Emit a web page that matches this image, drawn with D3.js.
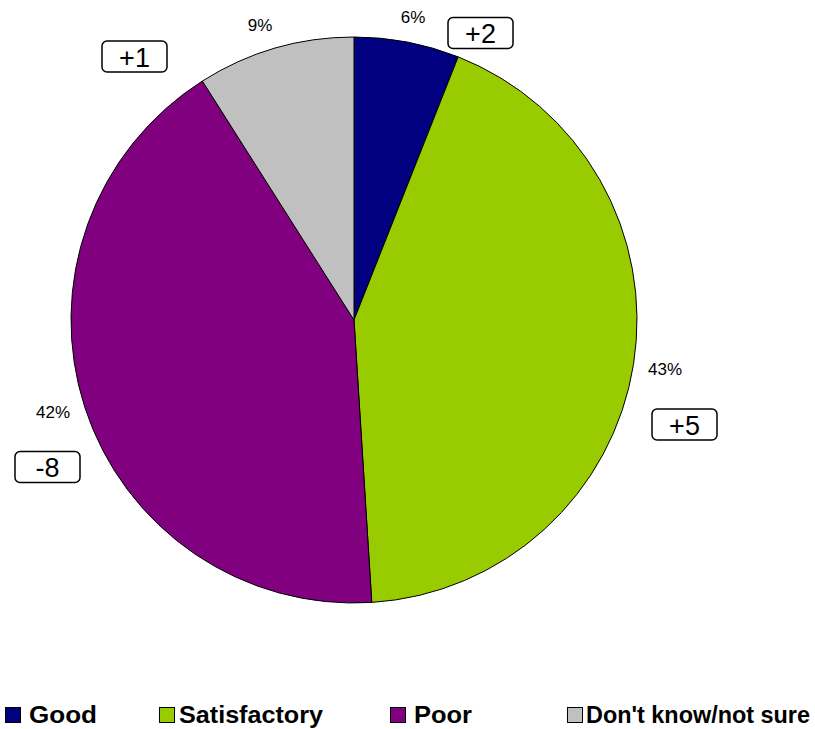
<!DOCTYPE html>
<html>
<head>
<meta charset="utf-8">
<script src="https://cdn.jsdelivr.net/npm/d3@7"></script>
<style>
  html, body { margin: 0; padding: 0; background: #fff; }
  svg { display: block; }
</style>
</head>
<body>
<svg id="chart" width="815" height="729"></svg>
<script>
// Ratings breakdown with change since previous survey
const categories = ["Good", "Satisfactory", "Poor", "Don't know/not sure"];
const values = [6, 43, 42, 9];
const changes = ["+2", "+5", "-8", "+1"];
const colors = ["#000080", "#99CC00", "#800080", "#C0C0C0"];

const svg = d3.select("#chart");
const cx = 354, cy = 320, radius = 283;
const font = "Liberation Sans, Arial, sans-serif";

const pie = d3.pie().value(d => d).sort(null);
const arcs = pie(values);
const arc = d3.arc().innerRadius(0).outerRadius(radius);

const g = svg.append("g").attr("transform", `translate(${cx},${cy})`);

g.selectAll("path.slice")
  .data(arcs)
  .join("path")
  .attr("class", "slice")
  .attr("d", arc)
  .attr("fill", (d, i) => colors[i])
  .attr("stroke", "#000")
  .attr("stroke-width", 1);

// Label offsets from the pie centre, per slice
const pctPos = [[59, -303], [311, 49], [-301, 92], [-94, -295]];
const boxPos = [[126.5, -287], [330.5, 104.5], [-306.5, 147], [-219.5, -263.5]];

g.selectAll("text.pct")
  .data(arcs)
  .join("text")
  .attr("class", "pct")
  .attr("x", (d, i) => pctPos[i][0])
  .attr("y", (d, i) => pctPos[i][1])
  .attr("text-anchor", "middle")
  .attr("dominant-baseline", "central")
  .attr("font-family", font)
  .attr("font-size", 17)
  .attr("fill", "#000")
  .text(d => d.data + "%");

const boxW = 65, boxH = 31;
const boxes = g.selectAll("g.chg")
  .data(arcs)
  .join("g")
  .attr("class", "chg")
  .attr("transform", (d, i) => `translate(${boxPos[i][0]},${boxPos[i][1]})`);

boxes.append("rect")
  .attr("x", -boxW / 2)
  .attr("y", -boxH / 2)
  .attr("width", boxW)
  .attr("height", boxH)
  .attr("rx", 5)
  .attr("ry", 5)
  .attr("fill", "#fff")
  .attr("stroke", "#000")
  .attr("stroke-width", 1.5);

boxes.append("text")
  .attr("text-anchor", "middle")
  .attr("y", 10)
  .attr("font-family", font)
  .attr("font-size", 27)
  .attr("fill", "#000")
  .text((d, i) => changes[i]);

// Legend along the bottom
const legendSwatchX = [5, 159, 390, 567];
const legendTextX = [29, 179, 414, 586];
const legendTextW = [68, 144, 58, 224];
const legend = svg.append("g").attr("class", "legend");
const items = legend.selectAll("g")
  .data(categories)
  .join("g");

items.append("rect")
  .attr("x", (d, i) => legendSwatchX[i] + 0.5)
  .attr("y", 707.5)
  .attr("width", 15).attr("height", 15)
  .attr("fill", (d, i) => colors[i])
  .attr("stroke", "#000")
  .attr("stroke-width", 1);

items.append("text")
  .attr("x", (d, i) => legendTextX[i])
  .attr("y", 723)
  .attr("textLength", (d, i) => legendTextW[i])
  .attr("lengthAdjust", "spacingAndGlyphs")
  .attr("font-family", font)
  .attr("font-weight", "bold")
  .attr("font-size", 23.5)
  .attr("fill", "#000")
  .text(d => d);
</script>
</body>
</html>
